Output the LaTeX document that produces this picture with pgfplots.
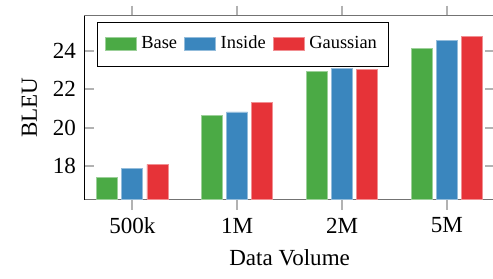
\documentclass[border=0pt]{standalone}
\usepackage{fontspec}
\setmainfont{Liberation Serif}
\usepackage{pgfplots}
\pgfplotsset{compat=1.18}
\definecolor{cG}{HTML}{4BAA45}
\definecolor{cB}{HTML}{3A86BE}
\definecolor{cR}{HTML}{E63338}
\begin{document}
\begin{tikzpicture}
\begin{axis}[
  name=ax,
  scale only axis,
  width=178.3pt, height=79.8pt,
  ybar, bar width=9.1pt, ybar=1.8pt,
  xmin=-0.46, xmax=3.46,
  ymin=16.27, ymax=25.82,
  xtick={0,1,2,3},
  xticklabels={500k,1M,2M,5M},
  ytick={18,20,22,24},
  /pgf/number format/assume math mode=true,
  tick label style={font=\rmfamily},
  separate axis lines,
  x axis line style={black!55, semithick},
  y axis line style={black},
  tick style={black!30, line width=0.8pt},
  major tick length=4.4pt,
  xtick align=outside,
  xlabel={Data Volume},
  ylabel={BLEU},
  legend style={at={(rel axis cs:0.032,0.967)}, anchor=north west, draw=black, legend columns=-1,
    font=\footnotesize, inner xsep=3pt, inner ysep=4pt,
    /tikz/every even column/.append style={column sep=1pt}},
  legend image code/.code={\draw[#1] (0pt,-2.75pt) rectangle (13.5pt,2.75pt);},
]
\addplot[fill=cG, draw=cG!55!white, line width=0.4pt] coordinates {(0,17.41) (1,20.63) (2,22.90) (3,24.12)};
\addplot[fill=cB, draw=cB!55!white, line width=0.4pt] coordinates {(0,17.88) (1,20.82) (2,23.06) (3,24.54)};
\addplot[fill=cR, draw=cR!55!white, line width=0.4pt] coordinates {(0,18.10) (1,21.30) (2,23.02) (3,24.73)};
\legend{Base,Inside,Gaussian\hspace{3pt}}
\end{axis}
\pgfresetboundingbox
\path[use as bounding box] ([shift={(-36.5pt,-34.2pt)}]ax.south west) rectangle ([shift={(-0.9pt,6.8pt)}]ax.north east);
\end{tikzpicture}
\end{document}
